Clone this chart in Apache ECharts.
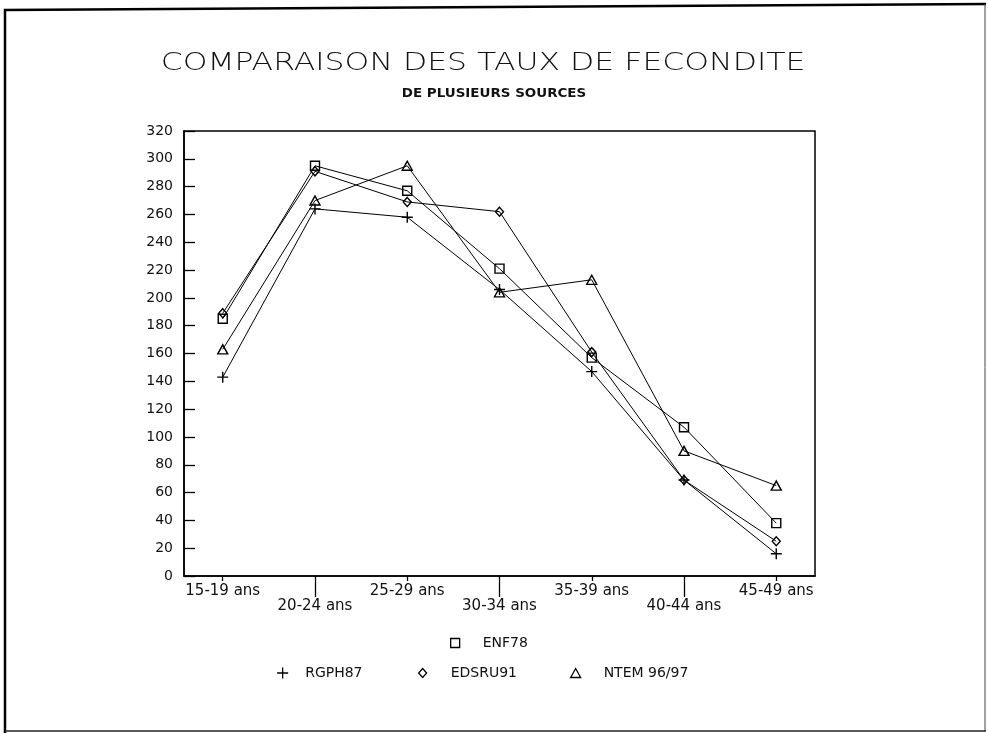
<!DOCTYPE html>
<html>
<head>
<meta charset="utf-8">
<script src="https://cdn.jsdelivr.net/npm/echarts@6/dist/echarts.min.js"></script>
<style>
  html, body { margin: 0; padding: 0; background: #fff; }
  #chart { width: 988px; height: 733px; }
</style>
</head>
<body>
<div id="chart"></div>
<script>
// Age groups (x axis)
const categories = ['15-19 ans', '20-24 ans', '25-29 ans', '30-34 ans', '35-39 ans', '40-44 ans', '45-49 ans'];

// Fertility rates per 1000 women, by source
const enf78   = [185, 295, 277, 221, 157, 107, 38];
const rgph87  = [143, 264, 258, 206, 147, 69, 16];
const edsru91 = [189, 291, 269, 262, 161, 69, 25];
const ntem    = [163, 270, 295, 204, 213, 90, 65];

const seriesNames = ['ENF78', 'RGPH87', 'EDSRU91', 'NTEM 96/97'];

// Y axis scale
const yMin = 0, yMax = 320, yStep = 20;

const PLUS = 'path://M0,5L10,5M5,0L5,10';
const FONT = 'DejaVu Sans';

const idx = categories.map((_, i) => i);
const pairs = arr => arr.map((v, i) => [i, v]);

function lineSeries(name, values, symbol, size) {
  return {
    type: 'line',
    name: name,
    data: pairs(values),
    symbol: symbol,
    symbolSize: size,
    showSymbol: true,
    lineStyle: { color: '#000', width: 1 },
    itemStyle: { color: 'rgba(0,0,0,0)', borderColor: '#000', borderWidth: 1.4 },
    emphasis: { disabled: true },
    animation: false,
    z: 3
  };
}

function legendBox(name, icon, left, top, w, h, gap) {
  return {
    data: [name],
    icon: icon,
    left: left,
    top: top,
    padding: 0,
    itemWidth: w,
    itemHeight: h,
    selectedMode: false,
    itemStyle: { color: 'rgba(0,0,0,0)', borderColor: '#000', borderWidth: 1.3 },
    textStyle: { fontFamily: FONT, fontSize: 14, color: '#111', padding: [0, 0, 0, gap] }
  };
}

const chart = echarts.init(document.getElementById('chart'), null, { renderer: 'canvas' });

chart.setOption({
  backgroundColor: '#fff',
  animation: false,
  graphic: [
    // page frame
    { type: 'polyline', shape: { points: [[5, 733], [5, 10], [986, 4]] }, style: { stroke: '#000', lineWidth: 2.5, fill: null } },
    { type: 'line', shape: { x1: 985, y1: 4, x2: 985, y2: 731 }, style: { stroke: '#444', lineWidth: 1 } },
    { type: 'line', shape: { x1: 5, y1: 731, x2: 986, y2: 731 }, style: { stroke: '#222', lineWidth: 1.5 } },
    // titles
    {
      type: 'text', x: 483, y: 63, scaleX: 1.26,
      style: { text: 'COMPARAISON DES TAUX DE FECONDITE', fontFamily: FONT, fontSize: 25, fontWeight: 200,
               fill: '#111', align: 'center', verticalAlign: 'middle' }
    },
    {
      type: 'text', x: 494, y: 94, scaleX: 1.12,
      style: { text: 'DE PLUSIEURS SOURCES', fontFamily: FONT, fontSize: 12, fontWeight: 'bold',
               fill: '#111', align: 'center', verticalAlign: 'middle' }
    }
  ],
  legend: [
    legendBox('ENF78', 'rect', 450, 636, 9, 9, 18),
    legendBox('RGPH87', PLUS, 276.5, 666, 11, 11, 12),
    legendBox('EDSRU91', 'diamond', 418, 666, 8, 9, 19),
    legendBox('NTEM 96/97', 'triangle', 570, 666, 10, 9, 18)
  ],
  grid: {
    left: 184, right: 173, top: 131, bottom: 157,
    show: true, borderColor: '#000', borderWidth: 1.5, backgroundColor: 'transparent'
  },
  xAxis: [
    {
      type: 'value',
      min: -0.42, max: 6.42,
      axisLine: { show: true, onZero: false, lineStyle: { color: '#000', width: 1.5 } },
      axisTick: { show: true, customValues: idx.filter(i => i % 2 === 0), length: 5, lineStyle: { color: '#000', width: 1.3 } },
      axisLabel: {
        show: true,
        customValues: idx,
        margin: 8,
        fontFamily: FONT, fontSize: 15, color: '#111', lineHeight: 15,
        formatter: v => {
          const i = Math.round(v);
          return i % 2 === 1 ? '\n' + categories[i] : categories[i];
        }
      },
      splitLine: { show: false }
    },
    {
      type: 'value',
      position: 'bottom',
      min: -0.42, max: 6.42,
      axisLine: { show: false, onZero: false },
      axisTick: { show: true, customValues: idx.filter(i => i % 2 === 1), length: 21, lineStyle: { color: '#000', width: 1.3 } },
      axisLabel: { show: false },
      splitLine: { show: false }
    }
  ],
  yAxis: {
    type: 'value',
    min: yMin, max: yMax, interval: yStep,
    axisLine: { show: true, onZero: false, lineStyle: { color: '#000', width: 1.5 } },
    axisTick: { show: true, inside: true, length: 11, lineStyle: { color: '#000', width: 1.3 } },
    axisLabel: { margin: 11, fontFamily: FONT, fontSize: 14, color: '#111' },
    splitLine: { show: false }
  },
  series: [
    lineSeries(seriesNames[0], enf78, 'rect', 9),
    lineSeries(seriesNames[1], rgph87, PLUS, 11),
    lineSeries(seriesNames[2], edsru91, 'diamond', [8, 9]),
    lineSeries(seriesNames[3], ntem, 'triangle', [10, 9])
  ]
});
</script>
</body>
</html>
